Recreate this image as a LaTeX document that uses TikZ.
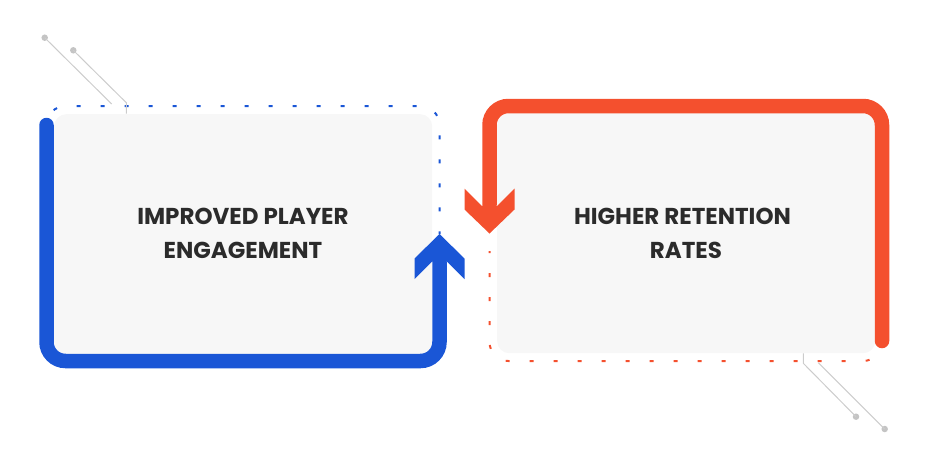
\documentclass[tikz,border=0pt]{standalone}
\usepackage{fontspec}
\setmainfont{Poppins}
\definecolor{cblue}{HTML}{1A56D6}
\definecolor{cred}{HTML}{F4502E}
\definecolor{cgrey}{HTML}{F7F7F7}
\definecolor{cline}{HTML}{CCCCCC}
\definecolor{cdot}{HTML}{C4C4C4}
\definecolor{ctext}{HTML}{2B2B2B}
\begin{document}
\begin{tikzpicture}[x=1pt,y=-1pt,
  card/.style={fill=cgrey, draw=none, rounded corners=12pt, inner sep=0pt,
    minimum width=378pt, minimum height=240pt, anchor=north west},
  lbl/.style={font=\bfseries\fontsize{23}{33.5}\selectfont, text=ctext, align=center, inner sep=0pt},
  dotline/.style={line width=2pt, dash pattern=on 4pt off 20pt},
  loopline/.style={line width=14.5pt, line cap=round, rounded corners=19pt},
  decor/.style={draw=cline, line width=1pt},
  knob/.style={circle, fill=cdot, inner sep=0pt, minimum size=6.5pt},
]
\useasboundingbox (0,0) rectangle (930,467);

% cards
\node[card] (cardA) at (54,114) {};
\node[card] (cardB) at (497,113) {};

% dotted frames
\coordinate (ad0) at (46.5,150);
\coordinate (ad1) at (46.5,106);
\coordinate (ad2) at (439.5,106);
\coordinate (ad3) at (439.5,234);
\draw[dotline, cblue, rounded corners=19pt, dash phase=6pt] (ad0) -- (ad1) -- (ad2) -- (ad3);

\coordinate (bd0) at (489.5,251);
\coordinate (bd1) at (489.5,361);
\coordinate (bd2) at (882,361);
\coordinate (bd3) at (882,335);
\draw[dotline, cred, rounded corners=19pt, dash phase=2pt] (bd0) -- (bd1) -- (bd2) -- (bd3);

% solid loops
\coordinate (as) at (46.5,125);
\coordinate (ac1) at (46.5,361);
\coordinate (ac2) at (439.5,361);
\coordinate (ae) at (439.5,262);
\draw[loopline, cblue] (as) -- (ac1) -- (ac2) -- (ae);

\coordinate (bs) at (882,341);
\coordinate (bc1) at (882,106);
\coordinate (bc2) at (489.5,106);
\coordinate (be) at (489.5,205);
\draw[loopline, cred] (bs) -- (bc1) -- (bc2) -- (be);

% arrowheads
\fill[cblue] (439.5,234) -- (414.5,258.5) -- (414.5,279) -- (432,261.5) -- (447,261.5) -- (464.5,279) -- (464.5,258.5) -- cycle;
\fill[cred] (489.5,233.5) -- (464.5,209.5) -- (464.5,188.5) -- (482,206) -- (497,206) -- (514.5,188.5) -- (514.5,209.5) -- cycle;

% labels
\node[lbl] (tA) at (243,233.5) {IMPROVED PLAYER\\ENGAGEMENT};
\node[lbl] (tB) at (686,233.5) {HIGHER RETENTION\hspace*{7pt}\\RATES};

% decorative lines
\node[knob] (k1) at (44.7,37.7) {};
\node[knob] (k2) at (73.3,50.3) {};
\coordinate (k1e) at (111.7,104);
\coordinate (k2b) at (126.3,102.7);
\coordinate (k2e) at (126.3,113.5);
\draw[decor] (k1.center) -- (k1e);
\draw[decor] (k2.center) -- (k2b) -- (k2e);

\node[knob] (k3) at (856,416.7) {};
\node[knob] (k4) at (884.7,429) {};
\coordinate (k3s) at (803.3,353.3);
\coordinate (k3b) at (803.3,363.3);
\coordinate (k4s) at (818.3,362.7);
\draw[decor] (k3s) -- (k3b) -- (k3.center);
\draw[decor] (k4s) -- (k4.center);
\end{tikzpicture}
\end{document}
